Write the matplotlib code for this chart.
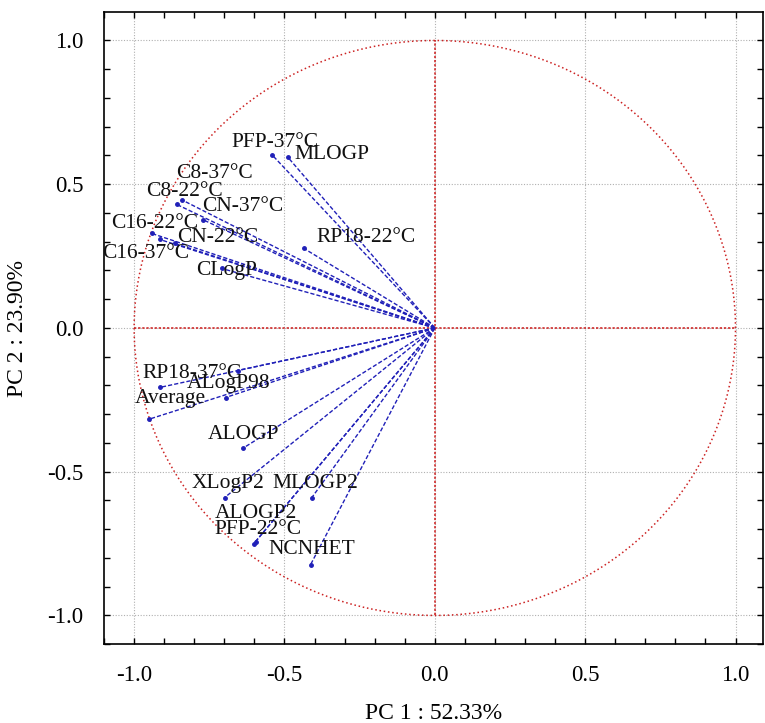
import numpy as np
import matplotlib
matplotlib.use("Agg")
import matplotlib.pyplot as plt
from matplotlib.ticker import MultipleLocator

plt.rcParams['font.family'] = ['Liberation Serif', 'DejaVu Serif']

# loadings on PC1 / PC2
variables = ["PFP-37°C", "MLOGP", "C8-37°C", "C8-22°C", "CN-37°C", "C16-22°C",
             "C16-37°C", "CN-22°C", "CLogP", "RP18-22°C", "RP18-37°C", "",
             "ALogP98", "Average", "ALOGP", "XLogP2", "MLOGP2", "ALOGP2",
             "PFP-22°C", "NCNHET"]
pc1 = [-0.542, -0.488, -0.842, -0.859, -0.772, -0.942, -0.915, -0.865, -0.709, -0.436,
       -0.915, -0.656, -0.696, -0.952, -0.639, -0.699, -0.409, -0.602, -0.596, -0.413]
pc2 = [0.603, 0.593, 0.446, 0.430, 0.377, 0.329, 0.308, 0.294, 0.207, 0.277,
       -0.207, -0.148, -0.242, -0.318, -0.419, -0.590, -0.590, -0.750, -0.743, -0.823]
pc1_label = "PC 1 : 52.33%"
pc2_label = "PC 2 : 23.90%"

# label offsets from the end of each vector, in pixels (x right, y up)
label_offsets = [(-40, 12), (6, 3), (-5, 26), (-30, 13), (-1, 13), (-40, 10),
                 (-58, -14), (2, 6), (-25, -2), (13, 11), (-17, 14), (0, 0),
                 (-39, 14), (-14, 21), (-35, 14), (-33, 14), (-39, 14), (-39, 30),
                 (-41, 12), (-42, 15)]

fig = plt.figure(figsize=(7.65, 7.23), dpi=100)
ax = fig.add_axes([0.136, 0.109, 0.862, 0.874])

# unit circle and axes cross
t = np.linspace(0, 2 * np.pi, 400)
ax.plot(np.cos(t), np.sin(t), color="#cc2222", lw=1.1, ls=(0, (1, 1.8)), zorder=2)
ax.plot([-1, 1], [0, 0], color="#cc1a1a", lw=1.1, ls=(0, (1.5, 1.2)), zorder=2)
ax.plot([0, 0], [-1, 1], color="#cc1a1a", lw=1.1, ls=(0, (1.5, 1.2)), zorder=2)

blue = "#2020b8"
for name, x, y, (dx, dy) in zip(variables, pc1, pc2, label_offsets):
    ax.plot([0, x], [0, y], color=blue, lw=1.0, ls=(0, (3, 1.5)), zorder=3)
    ax.plot(x, y, marker="o", ms=2.5, color=blue, zorder=3)
    if name:
        ax.annotate(name, (x, y), xytext=(dx * 0.72, dy * 0.72),
                    textcoords="offset points", ha="left", va="center",
                    fontsize=15.5, color="#111111", zorder=4)

ax.set_xlim(-1.1, 1.093)
ax.set_ylim(-1.1, 1.098)
ax.xaxis.set_major_locator(MultipleLocator(0.5))
ax.yaxis.set_major_locator(MultipleLocator(0.5))
ax.xaxis.set_minor_locator(MultipleLocator(0.1))
ax.yaxis.set_minor_locator(MultipleLocator(0.1))
ax.xaxis.set_major_formatter(plt.FormatStrFormatter("%.1f"))
ax.yaxis.set_major_formatter(plt.FormatStrFormatter("%.1f"))
ax.tick_params(which="both", direction="in", top=True, right=True, length=4, width=1.0)
ax.tick_params(which="major", labelsize=16.5, pad=15)
ax.grid(True, which="major", color="#b0b0b0", ls=(0, (1, 1.5)), lw=0.8)
ax.set_axisbelow(True)
for s in ax.spines.values():
    s.set_linewidth(1.2)

ax.set_xlabel(pc1_label, fontsize=17, labelpad=12)
ax.set_ylabel(pc2_label, fontsize=17, labelpad=14)

plt.savefig("out.png", dpi=100)
plt.close()
